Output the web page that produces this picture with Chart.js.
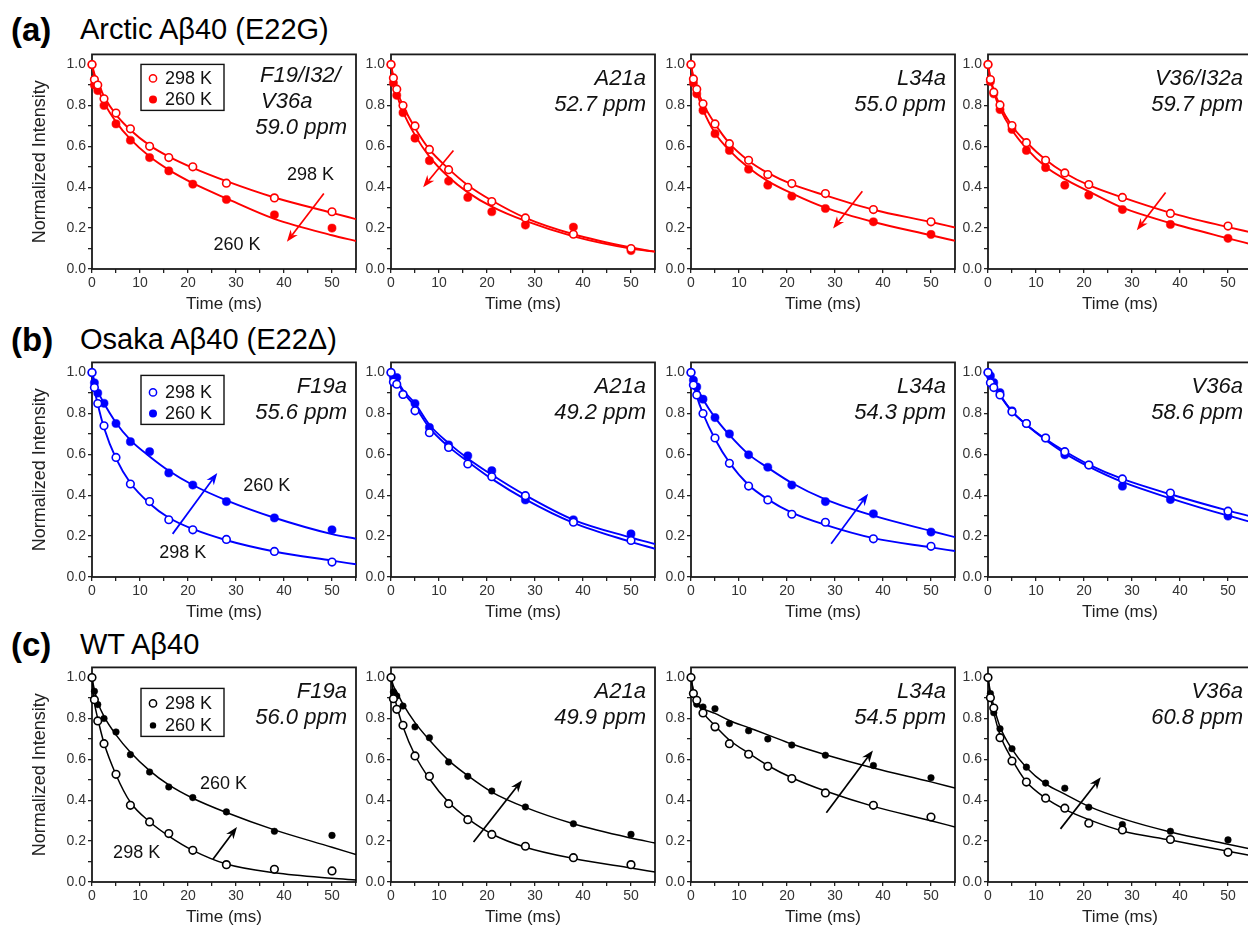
<!DOCTYPE html>
<html><head><meta charset="utf-8">
<script src="https://cdn.jsdelivr.net/npm/chart.js@4"></script>
<style>
html,body{margin:0;padding:0;background:#fff;width:1248px;height:930px;overflow:hidden;position:relative;font-family:"Liberation Sans",Arial,sans-serif}
canvas{position:absolute}
.hd{position:absolute;color:#000;white-space:nowrap;line-height:1}
</style></head><body>
<div class="hd" style="left:11px;top:13px;font-size:33px;font-weight:bold">(a)</div>
<div class="hd" style="left:80px;top:15px;font-size:29px">Arctic Aβ40 (E22G)</div>
<div class="hd" style="left:11px;top:323px;font-size:33px;font-weight:bold">(b)</div>
<div class="hd" style="left:80px;top:325px;font-size:29px">Osaka Aβ40 (E22Δ)</div>
<div class="hd" style="left:11px;top:628px;font-size:33px;font-weight:bold">(c)</div>
<div class="hd" style="left:80px;top:630px;font-size:29px">WT Aβ40</div>
<script>
// ---------- DATA ----------
const times = [0, 0.5, 1.2, 2.5, 5, 8, 12, 16, 21, 28, 38, 50];
const fitTimes = [0, 0.5, 1.2, 2.5, 5, 8, 12, 16, 21, 28, 38, 50, 55];
const seriesNames = ['298 K', '260 K'];
const xTicks = [0, 10, 20, 30, 40, 50];
const yTicks = [0.0, 0.2, 0.4, 0.6, 0.8, 1.0];

// Arctic (row a)
const a1_298 = [1.0,0.927,0.90,0.833,0.763,0.686,0.60,0.545,0.50,0.42,0.348,0.28];
const a1_260 = [1.0,0.90,0.873,0.80,0.71,0.63,0.545,0.48,0.415,0.34,0.265,0.20];
const a1_fit298 = [1.0,0.955,0.915,0.845,0.755,0.68,0.605,0.55,0.495,0.43,0.35,0.275,0.244];
const a1_fit260 = [1.0,0.94,0.89,0.815,0.72,0.635,0.55,0.485,0.42,0.345,0.245,0.165,0.137];
const a2_298 = [1.0,0.935,0.88,0.80,0.70,0.585,0.486,0.40,0.33,0.25,0.17,0.10];
const a2_260 = [1.0,0.91,0.85,0.765,0.64,0.53,0.43,0.35,0.28,0.215,0.205,0.09];
const a2_fit298 = [1.0,0.94,0.875,0.80,0.69,0.585,0.49,0.41,0.335,0.25,0.17,0.105,0.085];
const a2_fit260 = [1.0,0.93,0.855,0.77,0.655,0.55,0.45,0.375,0.305,0.235,0.16,0.10,0.085];
const a3_298 = [1.0,0.93,0.88,0.808,0.71,0.613,0.532,0.462,0.418,0.369,0.291,0.231];
const a3_260 = [1.0,0.91,0.857,0.776,0.662,0.58,0.488,0.41,0.356,0.296,0.231,0.169];
const a3_fit298 = [1.0,0.94,0.885,0.81,0.71,0.615,0.53,0.47,0.415,0.36,0.29,0.23,0.203];
const a3_fit260 = [1.0,0.925,0.865,0.78,0.665,0.58,0.495,0.43,0.37,0.30,0.23,0.165,0.138];
const a4_298 = [1.0,0.927,0.865,0.803,0.702,0.618,0.532,0.47,0.413,0.35,0.272,0.21];
const a4_260 = [1.0,0.917,0.857,0.78,0.683,0.58,0.496,0.41,0.361,0.291,0.218,0.15];
const a4_fit298 = [1.0,0.935,0.875,0.80,0.70,0.62,0.535,0.47,0.41,0.35,0.275,0.205,0.178];
const a4_fit260 = [1.0,0.93,0.865,0.785,0.68,0.59,0.50,0.44,0.38,0.30,0.225,0.15,0.12];
// Osaka (row b)
const b1_298 = [1.0,0.927,0.849,0.74,0.585,0.455,0.369,0.28,0.231,0.184,0.125,0.073];
const b1_260 = [1.0,0.95,0.90,0.85,0.751,0.662,0.613,0.509,0.45,0.369,0.289,0.231];
const b1_fit298 = [1.0,0.92,0.845,0.73,0.58,0.46,0.36,0.29,0.235,0.18,0.125,0.08,0.062];
const b1_fit260 = [1.0,0.96,0.91,0.85,0.755,0.67,0.59,0.52,0.45,0.375,0.29,0.21,0.187];
const b2_298 = [1.0,0.954,0.943,0.893,0.813,0.706,0.634,0.553,0.491,0.398,0.268,0.179];
const b2_260 = [1.0,0.976,0.976,0.894,0.849,0.732,0.646,0.593,0.52,0.377,0.28,0.211];
const b2_fit298 = [1.0,0.98,0.96,0.905,0.835,0.73,0.638,0.565,0.48,0.38,0.265,0.172,0.138];
const b2_fit260 = [1.0,0.985,0.965,0.915,0.85,0.745,0.655,0.58,0.50,0.40,0.28,0.193,0.161];
const b3_298 = [1.0,0.94,0.891,0.80,0.68,0.556,0.445,0.377,0.307,0.268,0.187,0.15];
const b3_260 = [1.0,0.963,0.93,0.87,0.78,0.70,0.598,0.537,0.45,0.369,0.309,0.22];
const b3_fit298 = [1.0,0.95,0.885,0.80,0.675,0.56,0.45,0.38,0.315,0.255,0.19,0.145,0.127];
const b3_fit260 = [1.0,0.97,0.93,0.87,0.78,0.695,0.60,0.535,0.46,0.38,0.30,0.225,0.195];
const b4_298 = [1.0,0.951,0.927,0.891,0.808,0.751,0.68,0.613,0.548,0.48,0.411,0.322];
const b4_260 = [1.0,0.984,0.951,0.902,0.813,0.751,0.68,0.598,0.548,0.444,0.379,0.298];
const b4_fit298 = [1.0,0.97,0.94,0.89,0.81,0.745,0.675,0.615,0.55,0.48,0.405,0.325,0.295];
const b4_fit260 = [1.0,0.97,0.94,0.89,0.81,0.745,0.67,0.605,0.54,0.465,0.385,0.30,0.268];
// WT (row c)
const c1_298 = [1.0,0.892,0.788,0.677,0.527,0.375,0.294,0.237,0.155,0.085,0.062,0.054];
const c1_260 = [1.0,0.933,0.868,0.80,0.734,0.623,0.538,0.465,0.413,0.343,0.248,0.228];
const c1_fit298 = [1.0,0.88,0.80,0.68,0.525,0.39,0.295,0.225,0.155,0.088,0.045,0.018,0.01];
const c1_fit260 = [1.0,0.94,0.88,0.81,0.72,0.635,0.545,0.475,0.41,0.34,0.255,0.17,0.134];
const c2_298 = [1.0,0.897,0.845,0.767,0.617,0.517,0.383,0.305,0.233,0.175,0.119,0.085];
const c2_260 = [1.0,0.93,0.91,0.861,0.759,0.706,0.587,0.517,0.445,0.367,0.285,0.233];
const c2_fit298 = [1.0,0.93,0.86,0.76,0.62,0.505,0.39,0.31,0.235,0.17,0.115,0.068,0.049];
const c2_fit260 = [1.0,0.96,0.93,0.87,0.78,0.695,0.595,0.52,0.44,0.365,0.285,0.215,0.191];
const c3_298 = [1.0,0.922,0.889,0.827,0.759,0.677,0.625,0.566,0.506,0.436,0.375,0.318];
const c3_260 = [1.0,0.92,0.87,0.856,0.848,0.775,0.74,0.70,0.67,0.62,0.57,0.51];
const c3_fit298 = [1.0,0.94,0.89,0.83,0.765,0.695,0.63,0.57,0.51,0.445,0.37,0.30,0.269];
const c3_fit260 = [1.0,0.93,0.88,0.85,0.825,0.79,0.755,0.72,0.675,0.623,0.558,0.49,0.46];
const c4_298 = [1.0,0.902,0.851,0.706,0.592,0.489,0.41,0.361,0.288,0.255,0.208,0.145];
const c4_260 = [1.0,0.922,0.828,0.75,0.652,0.562,0.484,0.459,0.366,0.281,0.248,0.206];
const c4_fit298 = [1.0,0.91,0.83,0.72,0.60,0.49,0.41,0.355,0.305,0.25,0.205,0.15,0.128];
const c4_fit260 = [1.0,0.93,0.86,0.76,0.65,0.56,0.48,0.43,0.37,0.31,0.245,0.185,0.16];

const residueLabels = [
  ['F19/I32/','V36a','59.0 ppm'], ['A21a','52.7 ppm'], ['L34a','55.0 ppm'], ['V36/I32a','59.7 ppm'],
  ['F19a','55.6 ppm'], ['A21a','49.2 ppm'], ['L34a','54.3 ppm'], ['V36a','58.6 ppm'],
  ['F19a','56.0 ppm'], ['A21a','49.9 ppm'], ['L34a','54.5 ppm'], ['V36a','60.8 ppm']
];
// arrows in data units: [tStart, vStart, tEnd, vEnd]
const arrows = [
  [48.3,0.369,40.6,0.133], [13.0,0.58,6.7,0.40], [35.7,0.38,29.6,0.198], [37.0,0.374,31.0,0.19],
  [16.8,0.211,26.1,0.509], null, [29.2,0.163,36.9,0.407], null,
  [25.2,0.111,30.2,0.269], [17.2,0.196,27.3,0.498], [28.2,0.339,37.9,0.644], [15.1,0.26,23.5,0.513]
];
// temperature labels in data units
const tempLabels = {
  0: [['298 K',45.5,0.458],['260 K',30.2,0.117]],
  4: [['260 K',36.4,0.447],['298 K',18.9,0.117]],
  8: [['260 K',27.4,0.478],['298 K',9.3,0.142]]
};

const panelData = [
  [a1_298,a1_260,a1_fit298,a1_fit260],[a2_298,a2_260,a2_fit298,a2_fit260],
  [a3_298,a3_260,a3_fit298,a3_fit260],[a4_298,a4_260,a4_fit298,a4_fit260],
  [b1_298,b1_260,b1_fit298,b1_fit260],[b2_298,b2_260,b2_fit298,b2_fit260],
  [b3_298,b3_260,b3_fit298,b3_fit260],[b4_298,b4_260,b4_fit298,b4_fit260],
  [c1_298,c1_260,c1_fit298,c1_fit260],[c2_298,c2_260,c2_fit298,c2_fit260],
  [c3_298,c3_260,c3_fit298,c3_fit260],[c4_298,c4_260,c4_fit298,c4_fit260]
];

// ---------- LAYOUT / STYLE ----------
const rowColors = ['#ff0000', '#0000ff', '#000000'];
const rowTops = [54, 362, 667];
const colLefts = [92, 391, 691, 988];
const PLOT_W = 264, PLOT_H = 215, PT = 10, PR = 10, XH = 50;
const legendBoxes = [[49,10,83,46,24,45],[49,13,83,49,30,51],[49,21,83,48,36,58]];
const FONT = '"Liberation Sans", Arial, sans-serif';
Chart.defaults.font.family = FONT;

function toXY(xs, ys){ return ys.map((v,i)=>({x:xs[i], y:v})); }

function drawArrow(ctx, x0, y0, x1, y1, color){
  const ang = Math.atan2(y1-y0, x1-x0), L = 12, Wd = 4.5;
  ctx.save();
  ctx.strokeStyle = color; ctx.fillStyle = color; ctx.lineWidth = 1.7;
  ctx.beginPath(); ctx.moveTo(x0,y0);
  ctx.lineTo(x1 - Math.cos(ang)*L*0.7, y1 - Math.sin(ang)*L*0.7); ctx.stroke();
  ctx.beginPath(); ctx.moveTo(x1,y1);
  ctx.lineTo(x1 - Math.cos(ang)*L - Math.sin(ang)*Wd, y1 - Math.sin(ang)*L + Math.cos(ang)*Wd);
  ctx.lineTo(x1 - Math.cos(ang)*L*0.7, y1 - Math.sin(ang)*L*0.7);
  ctx.lineTo(x1 - Math.cos(ang)*L + Math.sin(ang)*Wd, y1 - Math.sin(ang)*L - Math.cos(ang)*Wd);
  ctx.closePath(); ctx.fill();
  ctx.restore();
}

const annotPlugin = {
  id: 'annot',
  beforeDatasetsDraw(chart){
    const ca = chart.chartArea, ctx = chart.ctx;
    ctx.save(); ctx.strokeStyle = '#1a1a1a'; ctx.lineWidth = 1.8;
    ctx.strokeRect(ca.left, ca.top, ca.right-ca.left, ca.bottom-ca.top);
    ctx.restore();
  },
  afterDatasetsDraw(chart){
    const idx = chart.options.plugins.annot.idx;
    const r = Math.floor(idx/4), c = idx%4, color = rowColors[r];
    const ca = chart.chartArea, ctx = chart.ctx, xs = chart.scales.x, ys = chart.scales.y;
    ctx.save();
    // residue labels
    ctx.fillStyle = '#111'; ctx.font = 'italic 22px ' + FONT; ctx.textBaseline = 'middle';
    const lines = residueLabels[idx];
    if (lines.length === 3){
      ctx.textAlign = 'left';
      ctx.fillText(lines[0], ca.right - 96, ca.top + 21);
      ctx.fillText(lines[1], ca.right - 95, ca.top + 47);
      ctx.textAlign = 'right';
      ctx.fillText(lines[2], ca.right - 9, ca.top + 73);
    } else {
      ctx.textAlign = 'right';
      ctx.fillText(lines[0], ca.right - 9, ca.top + 24);
      ctx.fillText(lines[1], ca.right - 9, ca.top + 50);
    }
    // arrows
    const a = arrows[idx];
    if (a) drawArrow(ctx, xs.getPixelForValue(a[0]), ys.getPixelForValue(a[1]), xs.getPixelForValue(a[2]), ys.getPixelForValue(a[3]), color);
    // temperature labels
    if (tempLabels[idx]){
      ctx.font = '18px ' + FONT; ctx.textAlign = 'center'; ctx.fillStyle = '#111';
      tempLabels[idx].forEach(t => ctx.fillText(t[0], xs.getPixelForValue(t[1]), ys.getPixelForValue(t[2])));
    }
    // legend
    if (c === 0){
      const b = legendBoxes[r];
      const lx = ca.left + b[0], ly = ca.top + b[1];
      ctx.strokeStyle = '#111'; ctx.lineWidth = 1.4;
      ctx.strokeRect(lx, ly, b[2], b[3]);
      ctx.font = '18px ' + FONT; ctx.textAlign = 'left'; ctx.fillStyle = '#111';
      [b[4], b[5]].forEach((dy, k) => {
        const cy = ca.top + dy, cx = ca.left + 61;
        ctx.beginPath(); ctx.arc(cx, cy, k===0 ? 3.6 : (r===2 ? 3.2 : 4), 0, Math.PI*2);
        if (k===0){ ctx.fillStyle='#fff'; ctx.fill(); ctx.strokeStyle=color; ctx.lineWidth=1.5; ctx.stroke(); }
        else { ctx.fillStyle=color; ctx.fill(); }
        ctx.fillStyle = '#111';
        ctx.fillText(seriesNames[k], ca.left + 73, cy + 1);
      });
    }
    ctx.restore();
  }
};

function makeChart(idx){
  const r = Math.floor(idx/4), c = idx%4, color = rowColors[r];
  const YW = c === 0 ? 80 : 50;
  const W = YW + PLOT_W + PR, H = PT + PLOT_H + XH;
  const cv = document.createElement('canvas');
  cv.width = W; cv.height = H;
  cv.style.left = (colLefts[c] - YW) + 'px'; cv.style.top = (rowTops[r] - PT) + 'px';
  cv.style.width = W + 'px'; cv.style.height = H + 'px';
  document.body.appendChild(cv);
  const d = panelData[idx];
  const lw = r === 2 ? 1.5 : 1.9;
  new Chart(cv, {
    type: 'scatter',
    data: { datasets: [
      { label: seriesNames[0], data: toXY(times, d[0]), pointRadius: 3.8, pointBorderWidth: 1.6,
        pointBackgroundColor: '#fff', pointBorderColor: color, clip: false },
      { label: seriesNames[1], data: toXY(times, d[1]), pointRadius: r===2 ? 3.3 : 4.1, pointBorderWidth: 0.5,
        pointBackgroundColor: color, pointBorderColor: color, clip: false },
      { label: 'fit ' + seriesNames[0], data: toXY(fitTimes, d[2]), showLine: true, pointRadius: 0,
        borderColor: color, borderWidth: lw, cubicInterpolationMode: 'monotone' },
      { label: 'fit ' + seriesNames[1], data: toXY(fitTimes, d[3]), showLine: true, pointRadius: 0,
        borderColor: color, borderWidth: lw, cubicInterpolationMode: 'monotone' }
    ]},
    options: {
      responsive: false, animation: false, devicePixelRatio: 1,
      layout: { padding: { top: PT, right: PR, left: 0, bottom: 0 } },
      events: [],
      plugins: { legend: { display: false }, tooltip: { enabled: false }, annot: { idx } },
      scales: {
        x: { type: 'linear', min: 0, max: 55, afterFit: s => { s.height = XH; },
          border: { display: false },
          grid: { drawOnChartArea: false, drawTicks: true, tickLength: 4, lineWidth: 1.3, color: '#222', tickColor: '#222' },
          ticks: { stepSize: 5, includeBounds: false, autoSkip: false, maxRotation: 0, maxTicksLimit: 100, padding: 2,
            font: { size: 14 }, color: '#333',
            callback: v => xTicks.includes(v) ? String(v) : '' },
          title: { display: true, text: 'Time (ms)', font: { size: 17 }, color: '#222', padding: { top: 0, bottom: 4 } } },
        y: { type: 'linear', min: 0, max: 1.05, afterFit: s => { s.width = YW; },
          border: { display: false },
          grid: { drawOnChartArea: false, drawTicks: true, tickLength: 4, lineWidth: 1.3, color: '#222', tickColor: '#222' },
          ticks: { stepSize: 0.1, includeBounds: false, autoSkip: false, maxTicksLimit: 100, padding: 2,
            font: { size: 14 }, color: '#333',
            callback: v => { const k = Math.round(v*10); return yTicks.some(t => Math.round(t*10) === k) ? (k/10).toFixed(1) : ''; } },
          title: { display: c === 0, text: 'Normalized Intensity', font: { size: 18 }, color: '#222', padding: { top: 17, bottom: 0 } } }
      }
    },
    plugins: [annotPlugin]
  });
}
for (let i = 0; i < 12; i++) makeChart(i);
</script>
</body></html>
